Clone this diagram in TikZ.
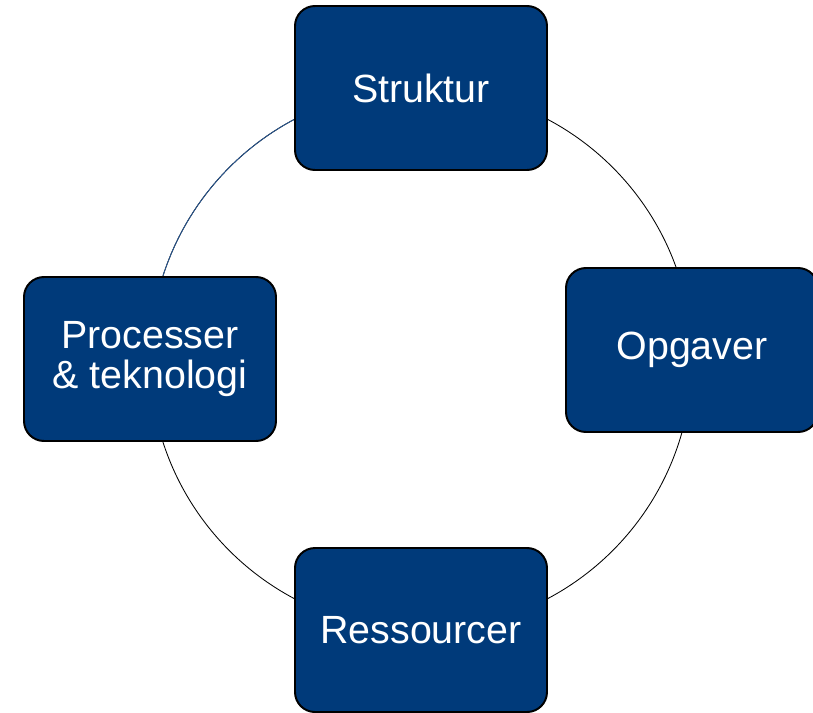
\documentclass[tikz,border=0pt]{standalone}
\usepackage{fontspec}
\setmainfont{Liberation Sans}
\usetikzlibrary{shapes.geometric}
\definecolor{boxblue}{RGB}{0,58,122}
\definecolor{arcblue}{RGB}{40,88,148}
\tikzstyle{area} = [rectangle, rounded corners=0.5cm, minimum width=6.3cm, minimum height=4.1cm, text centered, align=center, draw=black, line width=1.4pt, fill=boxblue, text=white, font=\fontsize{28}{28.5}\selectfont]
\tikzstyle{ring} = [line width=0.6pt]

\begin{document}
\begin{tikzpicture}[node distance=6.775cm]
		\useasboundingbox (0,0) rectangle (20.325,-17.8);
		\coordinate (mid) at (10.525,-8.975);
		\draw [ring] (mid) circle (6.775cm);
		\draw [ring, arcblue] ([shift={(90:6.775cm)}]mid) arc (90:180:6.775cm);

		\node (str) [area, above of=mid] {Struktur};
		\node (opg) [area, right of=mid, yshift=0.225cm] {Opgaver};
		\node (res) [area, below of=mid] {Ressourcer};
		\node (pro) [area, left of=mid] {Processer\\\& teknologi};
	  \end{tikzpicture}
\end{document}
